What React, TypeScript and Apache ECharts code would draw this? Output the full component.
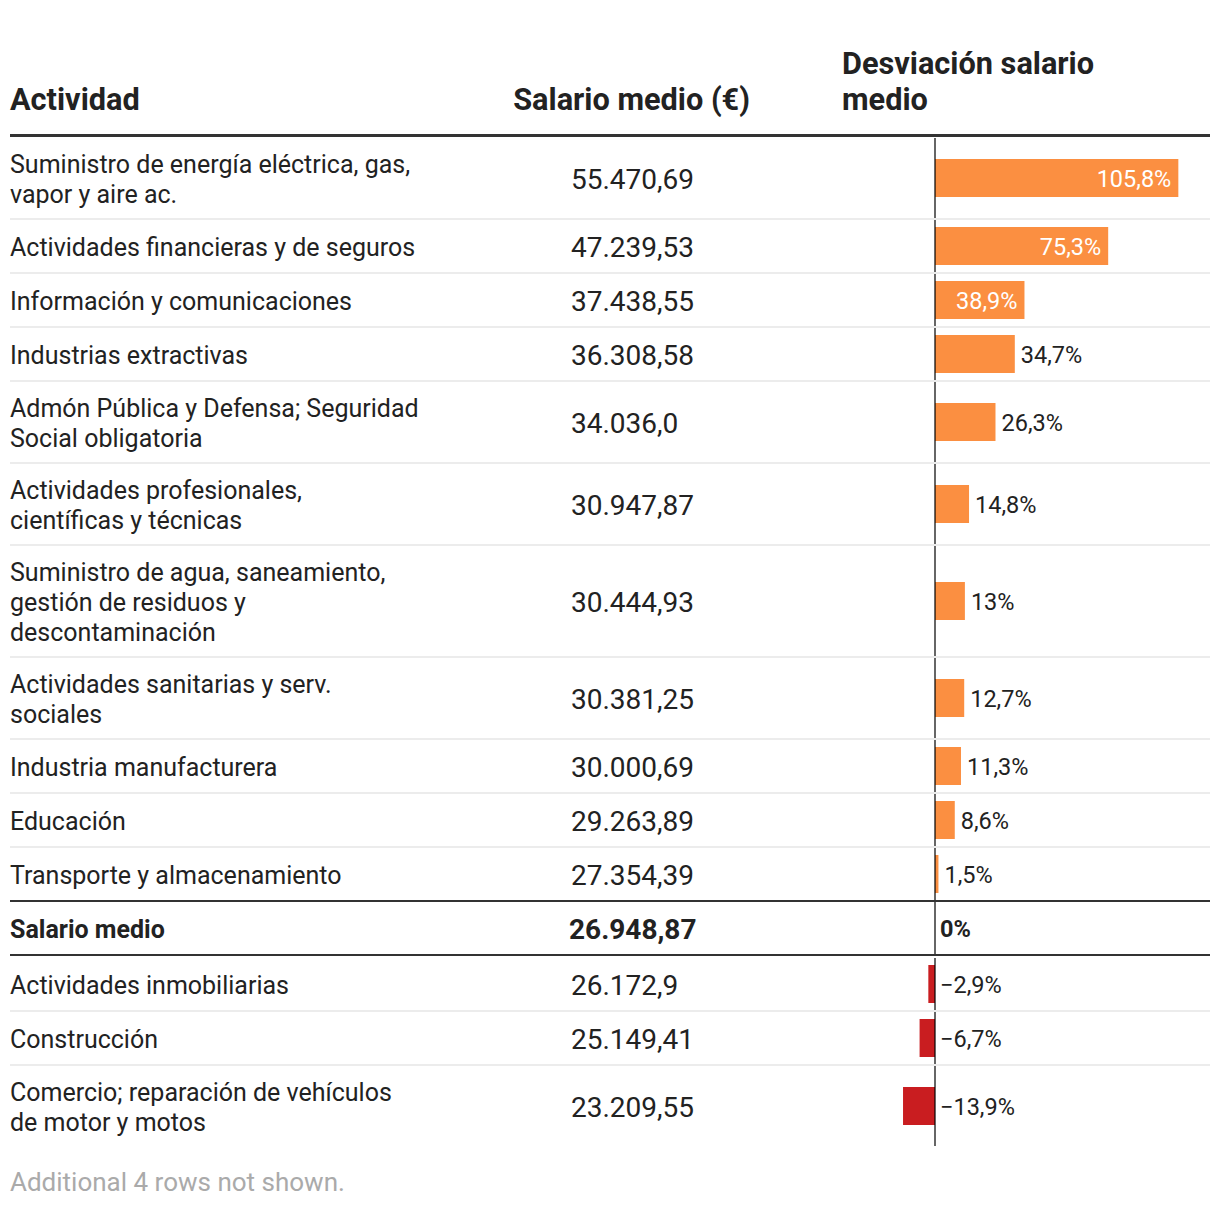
import { useEffect, useRef } from 'react';
import * as echarts from 'echarts';

const activities = [
  'Suministro de energía eléctrica, gas,\nvapor y aire ac.',
  'Actividades financieras y de seguros',
  'Información y comunicaciones',
  'Industrias extractivas',
  'Admón Pública y Defensa; Seguridad\nSocial obligatoria',
  'Actividades profesionales,\ncientíficas y técnicas',
  'Suministro de agua, saneamiento,\ngestión de residuos y\ndescontaminación',
  'Actividades sanitarias y serv.\nsociales',
  'Industria manufacturera',
  'Educación',
  'Transporte y almacenamiento',
  'Salario medio',
  'Actividades inmobiliarias',
  'Construcción',
  'Comercio; reparación de vehículos\nde motor y motos',
];
const salaries = [
  '55.470,69', '47.239,53', '37.438,55', '36.308,58', '34.036,0', '30.947,87', '30.444,93',
  '30.381,25', '30.000,69', '29.263,89', '27.354,39', '26.948,87', '26.172,9', '25.149,41', '23.209,55',
];
const deviations = [105.8, 75.3, 38.9, 34.7, 26.3, 14.8, 13, 12.7, 11.3, 8.6, 1.5, 0, -2.9, -6.7, -13.9];
const headers = ['Actividad', 'Salario medio (€)', 'Desviación salario\nmedio'];
const footnote = 'Additional 4 rows not shown.';
const averageIndex = 11;

const FONT = 'Roboto, "Noto Sans", sans-serif';
const TEXT = '#222222';
const ORANGE = '#fb8f41';
const RED = '#c91d20';
const SEP = '#ececec';
const DARK = '#333333';

const lineCounts = activities.map((a) => a.split('\n').length);
const rowHeights = lineCounts.map((n, i) => (i === averageIndex ? 56 : [0, 54, 82, 112][n]));
const rowTops: number[] = [];
{
  let y = 138;
  rowHeights.forEach((h) => {
    rowTops.push(y);
    y += h;
  });
}
const rowCenters = rowTops.map((t, i) => t + (i === averageIndex ? 26 : (rowHeights[i] - 2) / 2));

const fmtPct = (v: number) => (v < 0 ? '\u2212' : '') + String(Math.abs(v)).replace('.', ',') + '%';

export default function App() {
  const ref = useRef<HTMLDivElement>(null);
  useEffect(() => {
    const chart = echarts.init(ref.current!, null, { renderer: 'svg' });
    const data = deviations.map((d, i) => [d, rowCenters[i], i]);
    chart.setOption({
      animation: false,
      grid: { left: 889, width: 322, top: 0, height: 1206 },
      xAxis: { type: 'value', min: -20, max: 120, show: false },
      yAxis: { type: 'value', min: 0, max: 1206, inverse: true, show: false },
      graphic: [
        {
          type: 'text', x: 10, y: 99,
          style: { text: headers[0], font: `bold 30.7px ${FONT}`, fill: TEXT, verticalAlign: 'middle' },
        },
        {
          type: 'text', x: 750, y: 99,
          style: { text: headers[1], font: `bold 30.7px ${FONT}`, fill: TEXT, align: 'right', verticalAlign: 'middle' },
        },
        {
          type: 'text', x: 842, y: 81,
          style: { text: headers[2], font: `bold 30.7px ${FONT}`, fill: TEXT, lineHeight: 36, verticalAlign: 'middle' },
        },
        { type: 'rect', shape: { x: 10, y: 134, width: 1200, height: 3 }, style: { fill: DARK } },
        {
          type: 'text', x: 10, y: 1182,
          style: { text: footnote, font: `26px ${FONT}`, fill: '#aaaaaa', verticalAlign: 'middle' },
        },
      ],
      series: [
        {
          type: 'custom',
          encode: { x: 0, y: 1 },
          data,
          renderItem: (params: any, api: any) => {
            const i = api.value(2);
            const v = api.value(0);
            const c = api.value(1);
            const top = rowTops[i];
            const h = rowHeights[i];
            const isAvg = i === averageIndex;
            const p0 = api.coord([0, c]);
            const p1 = api.coord([v, c]);
            const children: any[] = [];
            children.push({
              type: 'text',
              style: {
                text: activities[i], x: 10, y: c + 1, verticalAlign: 'middle', lineHeight: 30,
                font: `${isAvg ? 'bold ' : ''}25px ${FONT}`, fill: TEXT,
              },
            });
            children.push({
              type: 'text',
              style: {
                text: salaries[i], x: isAvg ? 569 : 571, y: c + 1, verticalAlign: 'middle',
                font: `${isAvg ? 'bold ' : ''}28px ${FONT}`, fill: TEXT,
              },
            });
            if (v !== 0) {
              const x = Math.min(p0[0], p1[0]);
              children.push({
                type: 'rect',
                shape: { x, y: c - 19, width: Math.abs(p1[0] - p0[0]), height: 38 },
                style: { fill: v > 0 ? ORANGE : RED },
              });
            }
            const inside = v > 36;
            let lx = p0[0] + 5;
            let align = 'left';
            let fill = TEXT;
            if (inside) {
              lx = p1[0] - 7;
              align = 'right';
              fill = '#ffffff';
            } else if (v > 0) {
              lx = p1[0] + 6;
            }
            children.push({
              type: 'text',
              style: {
                text: fmtPct(v), x: lx, y: c + 1, align, verticalAlign: 'middle',
                font: `${isAvg ? 'bold ' : ''}23.5px ${FONT}`, fill,
              },
            });
            children.push({
              type: 'line',
              shape: { x1: p0[0], y1: top, x2: p0[0], y2: top + (isAvg ? 52 : h - 2) },
              style: { stroke: 'rgba(0,0,0,0.6)', lineWidth: 2 },
            });
            if (i < activities.length - 1) {
              const dark = i === averageIndex - 1 || isAvg;
              const sy = isAvg ? top + 53 : top + h - 1;
              children.push({
                type: 'line',
                shape: { x1: 10, y1: sy, x2: 1210, y2: sy },
                style: { stroke: dark ? DARK : SEP, lineWidth: 2 },
              });
            }
            return { type: 'group', children };
          },
        },
      ],
    });
    return () => chart.dispose();
  }, []);
  return <div ref={ref} style={{ position: 'absolute', left: 0, top: 0, width: 1220, height: 1206 }} />;
}
